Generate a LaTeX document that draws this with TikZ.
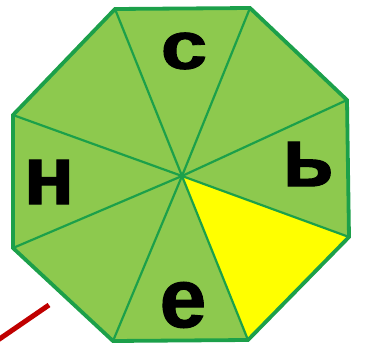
\documentclass[tikz,border=0pt]{standalone}
\usepackage{fontspec}
\setmainfont{Liberation Sans}
\newfontfamily\heavyfont[FakeBold=1.2]{Liberation Sans Bold}
\definecolor{leaf}{HTML}{8DC94E}
\definecolor{rim}{HTML}{1CA04A}
\definecolor{hl}{HTML}{FFFF00}
\definecolor{redline}{HTML}{C00000}
\begin{document}
\begin{tikzpicture}[x=1pt,y=-1pt,
  spoke/.style={draw=rim,line width=2.2pt},
  letter/.style={font=\heavyfont\fontsize{84}{84}\selectfont,inner sep=0pt,text=black}]
\useasboundingbox (0,0) rectangle (365,346);
\coordinate (o) at (182,176);
\coordinate (v1) at (115,9);
\coordinate (v2) at (250,8);
\coordinate (v3) at (347,100);
\coordinate (v4) at (349,237);
\coordinate (v5) at (248,340);
\coordinate (v6) at (113,341);
\coordinate (v7) at (13,248);
\coordinate (v8) at (13,115);
\fill[leaf] (v1)--(v2)--(v3)--(v4)--(v5)--(v6)--(v7)--(v8)--cycle;
\fill[hl] (o)--(v4)--(v5)--cycle;
\foreach \i in {1,...,8} \draw[spoke] (o)--(v\i);
\draw[draw=rim,line width=3.8pt,line join=miter] (v1)--(v2)--(v3)--(v4)--(v5)--(v6)--(v7)--(v8)--cycle;
\node[letter] (c) at (184,51) {\scalebox{1}[0.8]{с}};
\node[letter] (n) at (49,182) {н};
\node[letter] (mz) at (308,164) {ь};
\node[letter] (e) at (183,305) {е};
\coordinate (r1) at (-2,340);
\coordinate (r2) at (49,305);
\draw[redline,line width=5pt] (r1)--(r2);
\end{tikzpicture}
\end{document}
